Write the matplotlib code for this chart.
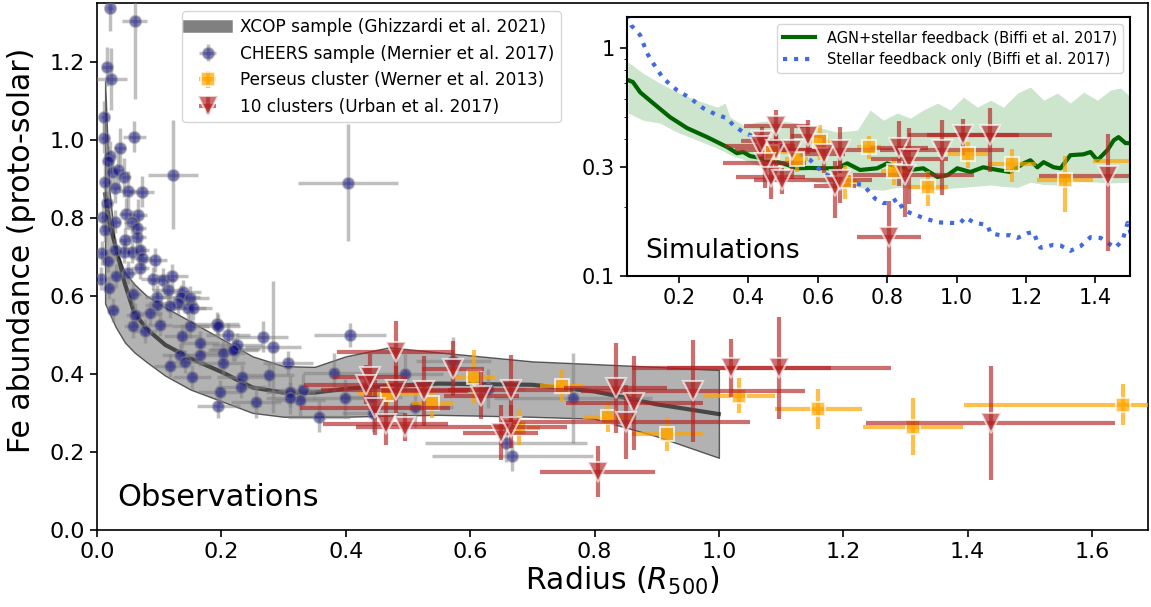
import numpy as np
import matplotlib
matplotlib.use("Agg")
import matplotlib.pyplot as plt
from matplotlib.lines import Line2D
from matplotlib.ticker import NullFormatter, FixedLocator

# XCOP sample (Ghizzardi et al. 2021): mean profile and scatter band
xcop_x = [0.013, 0.02, 0.03, 0.045, 0.06, 0.08, 0.11, 0.15, 0.2, 0.25, 0.3, 0.35, 0.4, 0.47, 0.55, 0.7, 0.8, 0.9, 1.0]
xcop_mean = [0.86, 0.787, 0.726, 0.63, 0.556, 0.515, 0.474, 0.44, 0.405, 0.365, 0.352, 0.352, 0.362, 0.369, 0.375, 0.372, 0.355, 0.322, 0.297]
xcop_hi = [1.15, 0.87, 0.72, 0.66, 0.63, 0.6, 0.57, 0.535, 0.49, 0.445, 0.42, 0.418, 0.445, 0.468, 0.455, 0.432, 0.425, 0.418, 0.41]
xcop_lo = [0.58, 0.555, 0.52, 0.48, 0.455, 0.43, 0.395, 0.36, 0.33, 0.3, 0.29, 0.29, 0.29, 0.293, 0.295, 0.29, 0.285, 0.24, 0.185]

# CHEERS sample (Mernier et al. 2017)
cheers_x = [0.021, 0.061, 0.016, 0.023, 0.011, 0.060, 0.011, 0.037, 0.021, 0.018,
            0.122, 0.024, 0.034, 0.013, 0.043, 0.029, 0.050, 0.072, 0.404, 0.016,
            0.010, 0.029, 0.047, 0.066, 0.056, 0.013, 0.064, 0.064, 0.045, 0.008,
            0.029, 0.043, 0.056, 0.069, 0.072, 0.093, 0.018, 0.069, 0.006, 0.031,
            0.050, 0.090, 0.106, 0.121, 0.019, 0.114, 0.058, 0.097, 0.138, 0.135,
            0.150, 0.097, 0.026, 0.130, 0.117, 0.146, 0.155, 0.085, 0.061, 0.101,
            0.058, 0.077, 0.150, 0.193, 0.195, 0.211, 0.222, 0.137, 0.166, 0.203,
            0.166, 0.134, 0.142, 0.117, 0.203, 0.233, 0.153, 0.198, 0.195, 0.232,
            0.225, 0.219, 0.267, 0.283, 0.407, 0.307, 0.277, 0.311, 0.331, 0.327,
            0.311, 0.256, 0.381, 0.398, 0.357, 0.496, 0.512, 0.441, 0.444, 0.573,
            0.628, 0.658, 0.668, 0.766]
cheers_y = [1.338, 1.303, 1.187, 1.156, 1.059, 1.008, 1.005, 0.979, 0.957, 0.944,
            0.910, 0.918, 0.923, 0.892, 0.903, 0.877, 0.869, 0.867, 0.890, 0.838,
            0.803, 0.790, 0.810, 0.808, 0.790, 0.769, 0.774, 0.751, 0.744, 0.710,
            0.718, 0.713, 0.713, 0.718, 0.697, 0.692, 0.690, 0.672, 0.644, 0.651,
            0.659, 0.644, 0.641, 0.651, 0.621, 0.615, 0.605, 0.598, 0.610, 0.598,
            0.595, 0.577, 0.564, 0.582, 0.574, 0.569, 0.569, 0.556, 0.551, 0.526,
            0.523, 0.510, 0.523, 0.528, 0.523, 0.500, 0.464, 0.497, 0.479, 0.454,
            0.449, 0.449, 0.431, 0.421, 0.428, 0.392, 0.392, 0.354, 0.318, 0.367,
            0.474, 0.462, 0.495, 0.469, 0.500, 0.428, 0.397, 0.354, 0.359, 0.333,
            0.338, 0.328, 0.403, 0.338, 0.290, 0.400, 0.315, 0.341, 0.300, 0.434,
            0.362, 0.223, 0.190, 0.338]
cheers_xerr = [0.005, 0.02, 0.008, 0.025, 0.005, 0.018, 0.005, 0.01, 0.006, 0.006,
               0.04, 0.008, 0.01, 0.005, 0.012, 0.008, 0.015, 0.02, 0.08, 0.005,
               0.004, 0.008, 0.012, 0.015, 0.012, 0.005, 0.015, 0.015, 0.01, 0.004,
               0.008, 0.01, 0.012, 0.015, 0.015, 0.02, 0.006, 0.015, 0.003, 0.008,
               0.012, 0.02, 0.02, 0.025, 0.006, 0.025, 0.012, 0.02, 0.03, 0.03,
               0.03, 0.02, 0.008, 0.03, 0.025, 0.03, 0.03, 0.02, 0.015, 0.02,
               0.015, 0.02, 0.03, 0.035, 0.035, 0.035, 0.04, 0.03, 0.03, 0.035,
               0.03, 0.03, 0.03, 0.025, 0.035, 0.04, 0.03, 0.035, 0.035, 0.04,
               0.04, 0.04, 0.04, 0.045, 0.058, 0.04, 0.04, 0.04, 0.04, 0.04,
               0.04, 0.04, 0.05, 0.05, 0.05, 0.06, 0.06, 0.05, 0.05, 0.06,
               0.06, 0.13, 0.13, 0.127]
cheers_yerr = [0.06, 0.2, 0.05, 0.08, 0.04, 0.04, 0.04, 0.05, 0.04, 0.04,
               0.14, 0.04, 0.05, 0.04, 0.05, 0.04, 0.05, 0.04, 0.15, 0.03,
               0.03, 0.03, 0.04, 0.04, 0.03, 0.03, 0.03, 0.03, 0.03, 0.03,
               0.03, 0.03, 0.03, 0.03, 0.03, 0.03, 0.03, 0.03, 0.03, 0.03,
               0.03, 0.03, 0.03, 0.03, 0.03, 0.03, 0.03, 0.03, 0.03, 0.03,
               0.03, 0.03, 0.03, 0.03, 0.03, 0.03, 0.03, 0.03, 0.03, 0.03,
               0.03, 0.03, 0.03, 0.03, 0.03, 0.03, 0.03, 0.03, 0.03, 0.03,
               0.03, 0.03, 0.03, 0.03, 0.03, 0.03, 0.03, 0.03, 0.03, 0.03,
               0.03, 0.03, 0.04, 0.17, 0.03, 0.03, 0.03, 0.04, 0.04, 0.04,
               0.04, 0.04, 0.05, 0.05, 0.04, 0.05, 0.05, 0.05, 0.05, 0.06,
               0.05, 0.05, 0.04, 0.115]

# Perseus cluster (Werner et al. 2013)
pers_x = [0.468, 0.539, 0.607, 0.678, 0.748, 0.821, 0.917, 1.033, 1.160, 1.312, 1.650]
pers_y = [0.349, 0.326, 0.392, 0.262, 0.369, 0.290, 0.246, 0.344, 0.310, 0.264, 0.321]
pers_xerr = [0.05, 0.033, 0.033, 0.035, 0.035, 0.04, 0.057, 0.058, 0.07, 0.081, 0.256]
pers_yerr = [0.03, 0.04, 0.07, 0.045, 0.042, 0.04, 0.043, 0.045, 0.052, 0.073, 0.053]

# 10 clusters (Urban et al. 2017)
urban_x = [0.480, 0.439, 0.433, 0.480, 0.526, 0.573, 0.618, 0.665, 0.447, 0.464, 0.496,
           0.649, 0.665, 0.834, 0.864, 0.850, 0.958, 1.020, 1.096, 0.805, 1.437]
urban_y = [0.456, 0.392, 0.372, 0.359, 0.356, 0.413, 0.344, 0.359, 0.313, 0.272, 0.264,
           0.249, 0.264, 0.364, 0.326, 0.277, 0.356, 0.415, 0.415, 0.149, 0.274]
urban_xerr = [0.094, 0.06, 0.1, 0.12, 0.07, 0.05, 0.06, 0.1, 0.12, 0.1, 0.08,
              0.06, 0.09, 0.083, 0.11, 0.2, 0.18, 0.16, 0.18, 0.093, 0.2]
urban_yerr = [0.08, 0.06, 0.05, 0.06, 0.09, 0.07, 0.06, 0.09, 0.07, 0.055, 0.035,
              0.07, 0.055, 0.115, 0.12, 0.095, 0.13, 0.075, 0.13, 0.065, 0.145]

# Simulations (Biffi et al. 2017)
agn_x = [0.053, 0.067, 0.088, 0.125, 0.174, 0.223, 0.281, 0.339, 0.367, 0.385, 0.405, 0.425,
         0.454, 0.5, 0.541, 0.578, 0.616, 0.656, 0.685, 0.722, 0.771, 0.8, 0.829, 0.867,
         0.904, 0.945, 0.974, 1.002, 1.04, 1.077, 1.118, 1.155, 1.193, 1.213, 1.233, 1.251,
         1.28, 1.3, 1.328, 1.366, 1.386, 1.406, 1.435, 1.453, 1.467, 1.487, 1.5]
agn_y = [0.724, 0.71, 0.64, 0.574, 0.498, 0.446, 0.407, 0.368, 0.346, 0.35, 0.336, 0.332,
         0.322, 0.312, 0.297, 0.298, 0.297, 0.297, 0.312, 0.292, 0.297, 0.312, 0.3, 0.292,
         0.297, 0.272, 0.277, 0.297, 0.286, 0.3, 0.292, 0.286, 0.312, 0.322, 0.3, 0.316,
         0.3, 0.297, 0.339, 0.342, 0.35, 0.322, 0.357, 0.394, 0.407, 0.383, 0.383]
band_x = [0.053, 0.096, 0.145, 0.194, 0.252, 0.31, 0.333, 0.347, 0.385, 0.425, 0.483, 0.541,
          0.598, 0.656, 0.714, 0.751, 0.789, 0.829, 0.867, 0.904, 0.945, 0.982, 1.02, 1.06,
          1.098, 1.135, 1.176, 1.213, 1.251, 1.291, 1.328, 1.366, 1.406, 1.444, 1.473, 1.502]
band_hi = [0.868, 0.777, 0.702, 0.641, 0.591, 0.551, 0.574, 0.498, 0.459, 0.474, 0.483, 0.469,
           0.451, 0.428, 0.437, 0.535, 0.483, 0.519, 0.493, 0.535, 0.574, 0.535, 0.61, 0.551,
           0.591, 0.551, 0.635, 0.675, 0.591, 0.635, 0.574, 0.641, 0.591, 0.655, 0.668, 0.61]
band_lo = [0.519, 0.483, 0.469, 0.428, 0.395, 0.364, 0.35, 0.34, 0.325, 0.305, 0.285, 0.272,
           0.258, 0.251, 0.246, 0.24, 0.238, 0.245, 0.243, 0.24, 0.238, 0.243, 0.245, 0.248,
           0.251, 0.247, 0.245, 0.258, 0.252, 0.251, 0.262, 0.26, 0.258, 0.256, 0.257, 0.258]
stel_x = [0.05, 0.062, 0.088, 0.108, 0.125, 0.154, 0.194, 0.232, 0.269, 0.31, 0.339, 0.356,
          0.385, 0.425, 0.463, 0.5, 0.541, 0.578, 0.616, 0.656, 0.694, 0.731, 0.766, 0.789,
          0.809, 0.829, 0.847, 0.867, 0.904, 0.945, 0.982, 1.011, 1.025, 1.049, 1.089, 1.098,
          1.126, 1.155, 1.176, 1.204, 1.222, 1.233, 1.242, 1.262, 1.279, 1.3, 1.328, 1.357,
          1.386, 1.415, 1.435, 1.458, 1.479, 1.493, 1.502]
stel_y = [1.4, 1.26, 1.14, 0.95, 0.86, 0.738, 0.654, 0.604, 0.546, 0.508, 0.493, 0.459,
          0.428, 0.403, 0.383, 0.368, 0.346, 0.323, 0.283, 0.264, 0.256, 0.251, 0.218, 0.209,
          0.209, 0.218, 0.195, 0.189, 0.18, 0.172, 0.171, 0.171, 0.181, 0.172, 0.167, 0.154,
          0.151, 0.151, 0.147, 0.154, 0.156, 0.141, 0.133, 0.135, 0.137, 0.136, 0.129, 0.135,
          0.148, 0.147, 0.14, 0.133, 0.144, 0.171, 0.154]

W, H = 1151, 607
fig = plt.figure(figsize=(W / 100, H / 100), dpi=100)
ax = fig.add_axes([97 / W, 1 - 530 / H, (1148 - 97) / W, (530 - 3) / H])

# XCOP band + mean
ax.fill_between(xcop_x, xcop_lo, xcop_hi, facecolor='gray', alpha=0.6,
                edgecolor='k', linewidth=1, zorder=1)
ax.plot(xcop_x, xcop_mean, color='k', alpha=0.6, lw=3, zorder=2)

cheers_kw = dict(fmt='o', color='darkblue', ms=8, mec='gray', mew=1.5, ecolor='gray',
                 elinewidth=2.5, alpha=0.5)
pers_kw = dict(fmt='s', color='orange', ms=10, mec='white', mew=1.5, elinewidth=3, alpha=0.7)
urban_kw = dict(fmt='v', color='firebrick', ms=14, mec='white', mew=1.5, elinewidth=3, alpha=0.65)

ax.errorbar(cheers_x, cheers_y, xerr=cheers_xerr, yerr=cheers_yerr, zorder=3, **cheers_kw)
ax.errorbar(pers_x, pers_y, xerr=pers_xerr, yerr=pers_yerr, zorder=4, **pers_kw)
ax.errorbar(urban_x, urban_y, xerr=urban_xerr, yerr=urban_yerr, zorder=5, **urban_kw)

ax.set_xlim(0, 1.69)
ax.set_ylim(0, 1.35)
ax.set_xticks(np.arange(0, 1.61, 0.2))
ax.set_xlabel(r'Radius ($R_{500}$)', fontsize=21.5, labelpad=2)
ax.set_ylabel('Fe abundance (proto-solar)', fontsize=21.5)
ax.yaxis.set_label_coords(-0.058, 0.53)
ax.tick_params(labelsize=16, length=5, width=1.2)
for s in ax.spines.values():
    s.set_linewidth(1.2)
ax.text(0.019, 0.045, 'Observations', transform=ax.transAxes, fontsize=22)

# legend proxies
h_xcop = Line2D([], [], color='gray', lw=9)
h_cheers = ax.errorbar([], [], xerr=[], yerr=[], **cheers_kw)
h_pers = ax.errorbar([], [], xerr=[], yerr=[], **pers_kw)
h_urban = ax.errorbar([], [], xerr=[], yerr=[], **urban_kw)
ax.legend([h_xcop, h_cheers, h_pers, h_urban],
          ['XCOP sample (Ghizzardi et al. 2021)', 'CHEERS sample (Mernier et al. 2017)',
           'Perseus cluster (Werner et al. 2013)', '10 clusters (Urban et al. 2017)'],
          loc='upper left', bbox_to_anchor=(0.073, 1.0), fontsize=12.2,
          handlelength=2.2)

# inset: simulations
axin = fig.add_axes([627 / W, 1 - 276 / H, (1130 - 627) / W, (276 - 17) / H])
axin.fill_between(band_x, band_lo, band_hi, color='green', alpha=0.2, lw=0)
axin.plot(agn_x, agn_y, color='darkgreen', lw=3,
          label='AGN+stellar feedback (Biffi et al. 2017)')
axin.plot(stel_x, stel_y, color='royalblue', lw=3, ls=':',
          label='Stellar feedback only (Biffi et al. 2017)')
axin.errorbar(pers_x, pers_y, xerr=pers_xerr, yerr=pers_yerr, **pers_kw)
axin.errorbar(urban_x, urban_y, xerr=urban_xerr, yerr=urban_yerr, **urban_kw)
axin.set_yscale('log')
axin.set_xlim(0.05, 1.5)
axin.set_ylim(0.1, 1.37)
axin.yaxis.set_major_locator(FixedLocator([0.1, 0.3, 1]))
axin.set_yticklabels(['0.1', '0.3', '1'])
axin.yaxis.set_minor_formatter(NullFormatter())
axin.set_xticks(np.arange(0.2, 1.41, 0.2))
axin.tick_params(labelsize=15, length=5, width=1.2)
for s in axin.spines.values():
    s.set_linewidth(1.5)
axin.text(0.036, 0.07, 'Simulations', transform=axin.transAxes, fontsize=19)
axin.legend(loc='upper right', fontsize=10.5, handlelength=2.2)

fig.savefig('out.png', dpi=100)
